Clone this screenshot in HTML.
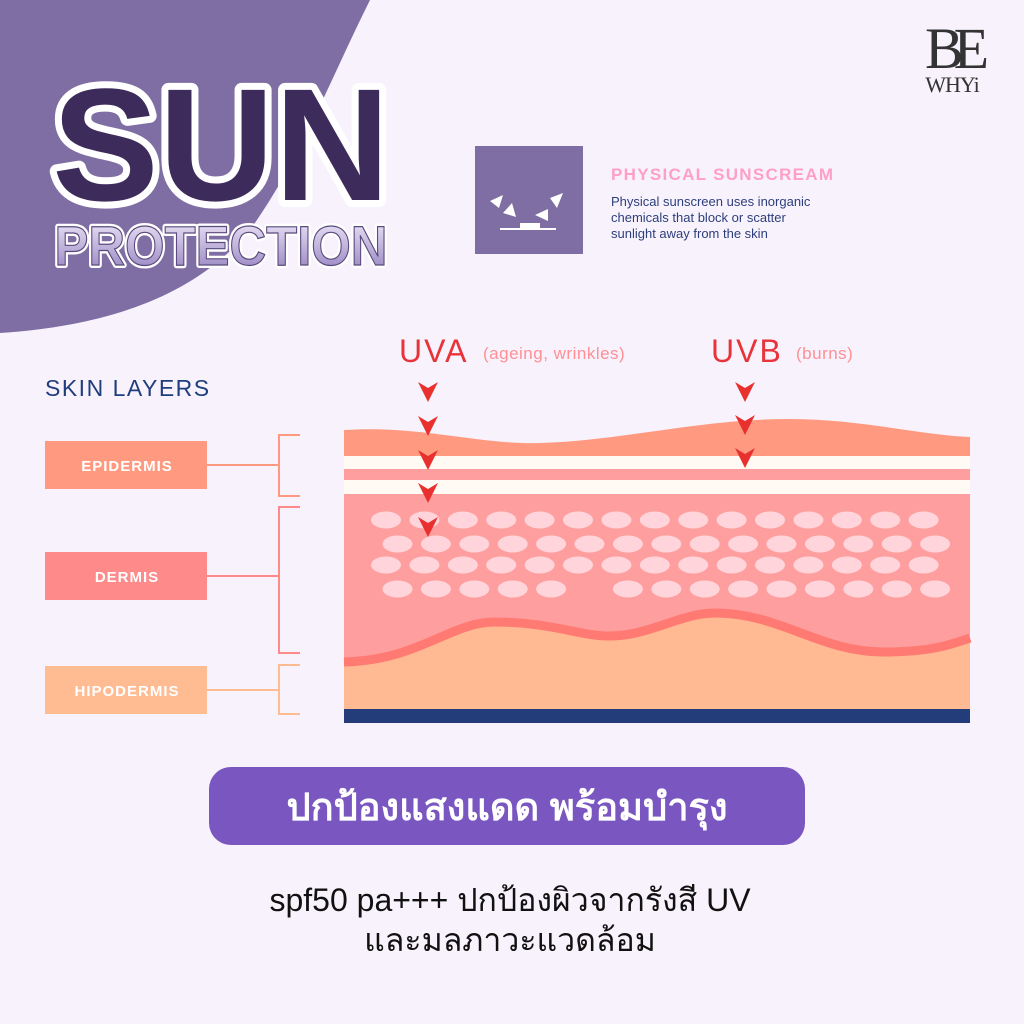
<!DOCTYPE html>
<html><head><meta charset="utf-8"><style>
html,body{margin:0;padding:0;background:#f8f2fc;}
svg{display:block}
</style></head><body>
<svg width="1024" height="1024" viewBox="0 0 1024 1024" xmlns="http://www.w3.org/2000/svg">
<rect width="1024" height="1024" fill="#f8f2fc"/>
<path d="M0 0 H370 C330 80 300 160 250 230 C200 290 120 325 0 333 Z" fill="#7f6ea3"/>
<text x="221" y="200" text-anchor="middle" font-family="Liberation Sans, sans-serif" font-weight="bold" font-size="160" fill="#3d2b5c" stroke="#ffffff" stroke-width="14" paint-order="stroke" stroke-linejoin="round">SUN</text>
<defs><linearGradient id="pg" x1="0" y1="0" x2="0" y2="1"><stop offset="0" stop-color="#f4eefc"/><stop offset="1" stop-color="#8f7cbc"/></linearGradient></defs>
<text x="221" y="265" text-anchor="middle" font-family="Liberation Sans, sans-serif" font-weight="bold" font-size="56" textLength="333" lengthAdjust="spacingAndGlyphs" fill="url(#pg)" stroke="#ffffff" stroke-width="6" paint-order="stroke" stroke-linejoin="round">PROTECTION</text>
<text x="221" y="265" text-anchor="middle" font-family="Liberation Sans, sans-serif" font-weight="bold" font-size="56" textLength="333" lengthAdjust="spacingAndGlyphs" fill="url(#pg)" stroke="#5b4a7d" stroke-width="1.2">PROTECTION</text>
<!-- logo -->
<text x="952" y="68" text-anchor="middle" font-family="Liberation Serif, serif" font-size="58" fill="#333" letter-spacing="-10">BE</text>
<text x="952" y="92" text-anchor="middle" font-family="Liberation Serif, serif" font-size="22" fill="#333" letter-spacing="-1">WHYi</text>
<!-- physical sunscreen -->
<rect x="475" y="146" width="108" height="108" fill="#7f6ea3"/>
<g fill="#fff">
<polygon points="490,201 503,195 499,208"/>
<polygon points="503,213 512,203 516,217"/>
<polygon points="535,215 548,209 548,221"/>
<polygon points="550,198 563,193 557,208"/>
<rect x="520" y="223" width="20" height="5"/>
<rect x="500" y="228" width="56" height="2"/>
</g>
<text x="611" y="180" font-family="Liberation Sans, sans-serif" font-weight="bold" font-size="17" fill="#ff9fc8" letter-spacing="1.3">PHYSICAL SUNSCREAM</text>
<g font-family="Liberation Sans, sans-serif" font-size="13" fill="#2c3f7c">
<text x="611" y="206">Physical sunscreen uses inorganic</text>
<text x="611" y="222">chemicals that block or scatter</text>
<text x="611" y="238">sunlight away from the skin</text>
</g>
<!-- UV labels -->
<text x="399" y="362" font-family="Liberation Sans, sans-serif" font-size="32" fill="#e8333a" letter-spacing="2">UVA</text>
<text x="483" y="359" font-family="Liberation Sans, sans-serif" font-size="17" fill="#ff8f95" letter-spacing="0.5">(ageing, wrinkles)</text>
<text x="711" y="362" font-family="Liberation Sans, sans-serif" font-size="32" fill="#e8333a" letter-spacing="2">UVB</text>
<text x="796" y="359" font-family="Liberation Sans, sans-serif" font-size="17" fill="#ff8f95" letter-spacing="0.5">(burns)</text>
<text x="45" y="396" font-family="Liberation Sans, sans-serif" font-size="23" fill="#1f3e7c" letter-spacing="1.5">SKIN LAYERS</text>
<!-- skin -->
<path d="M344 430 C420 425 480 445 540 443 C620 441 700 419 789 419 C860 419 920 435 970 437 V456 H344 Z" fill="#ff9a80"/>
<rect x="344" y="456" width="626" height="13" fill="#fffaf4"/>
<rect x="344" y="469" width="626" height="11" fill="#ff9e9e"/>
<rect x="344" y="480" width="626" height="14" fill="#fffaf4"/>
<rect x="344" y="494" width="626" height="220" fill="#ff9e9e"/>
<path d="M344 662 C420 660 450 622 495 622 C550 622 580 636 609 636 C650 636 680 613 715 613 C780 613 820 652 883 652 C930 652 950 645 970 638 V710 H344 Z" fill="#ffb993"/>
<path d="M344 662 C420 660 450 622 495 622 C550 622 580 636 609 636 C650 636 680 613 715 613 C780 613 820 652 883 652 C930 652 950 645 970 638" fill="none" stroke="#ff7a72" stroke-width="9"/>
<rect x="344" y="709" width="626" height="14" fill="#233d7a"/>
<g fill="#ffd4da">
<ellipse cx="386" cy="520" rx="15" ry="8.5"/><ellipse cx="424.4" cy="520" rx="15" ry="8.5"/><ellipse cx="462.8" cy="520" rx="15" ry="8.5"/><ellipse cx="501.2" cy="520" rx="15" ry="8.5"/><ellipse cx="539.6" cy="520" rx="15" ry="8.5"/><ellipse cx="578" cy="520" rx="15" ry="8.5"/><ellipse cx="616.4" cy="520" rx="15" ry="8.5"/><ellipse cx="654.8" cy="520" rx="15" ry="8.5"/><ellipse cx="693.2" cy="520" rx="15" ry="8.5"/><ellipse cx="731.6" cy="520" rx="15" ry="8.5"/><ellipse cx="770" cy="520" rx="15" ry="8.5"/><ellipse cx="808.4" cy="520" rx="15" ry="8.5"/><ellipse cx="846.8" cy="520" rx="15" ry="8.5"/><ellipse cx="885.2" cy="520" rx="15" ry="8.5"/><ellipse cx="923.6" cy="520" rx="15" ry="8.5"/>
<ellipse cx="397.5" cy="544" rx="15" ry="8.5"/><ellipse cx="435.9" cy="544" rx="15" ry="8.5"/><ellipse cx="474.3" cy="544" rx="15" ry="8.5"/><ellipse cx="512.7" cy="544" rx="15" ry="8.5"/><ellipse cx="551.1" cy="544" rx="15" ry="8.5"/><ellipse cx="589.5" cy="544" rx="15" ry="8.5"/><ellipse cx="627.9" cy="544" rx="15" ry="8.5"/><ellipse cx="666.3" cy="544" rx="15" ry="8.5"/><ellipse cx="704.7" cy="544" rx="15" ry="8.5"/><ellipse cx="743.1" cy="544" rx="15" ry="8.5"/><ellipse cx="781.5" cy="544" rx="15" ry="8.5"/><ellipse cx="819.9" cy="544" rx="15" ry="8.5"/><ellipse cx="858.3" cy="544" rx="15" ry="8.5"/><ellipse cx="896.7" cy="544" rx="15" ry="8.5"/><ellipse cx="935.1" cy="544" rx="15" ry="8.5"/>
<ellipse cx="386" cy="565" rx="15" ry="8.5"/><ellipse cx="424.4" cy="565" rx="15" ry="8.5"/><ellipse cx="462.8" cy="565" rx="15" ry="8.5"/><ellipse cx="501.2" cy="565" rx="15" ry="8.5"/><ellipse cx="539.6" cy="565" rx="15" ry="8.5"/><ellipse cx="578" cy="565" rx="15" ry="8.5"/><ellipse cx="616.4" cy="565" rx="15" ry="8.5"/><ellipse cx="654.8" cy="565" rx="15" ry="8.5"/><ellipse cx="693.2" cy="565" rx="15" ry="8.5"/><ellipse cx="731.6" cy="565" rx="15" ry="8.5"/><ellipse cx="770" cy="565" rx="15" ry="8.5"/><ellipse cx="808.4" cy="565" rx="15" ry="8.5"/><ellipse cx="846.8" cy="565" rx="15" ry="8.5"/><ellipse cx="885.2" cy="565" rx="15" ry="8.5"/><ellipse cx="923.6" cy="565" rx="15" ry="8.5"/>
<ellipse cx="397.5" cy="589" rx="15" ry="8.5"/><ellipse cx="435.9" cy="589" rx="15" ry="8.5"/><ellipse cx="474.3" cy="589" rx="15" ry="8.5"/><ellipse cx="512.7" cy="589" rx="15" ry="8.5"/><ellipse cx="551.1" cy="589" rx="15" ry="8.5"/><ellipse cx="627.9" cy="589" rx="15" ry="8.5"/><ellipse cx="666.3" cy="589" rx="15" ry="8.5"/><ellipse cx="704.7" cy="589" rx="15" ry="8.5"/><ellipse cx="743.1" cy="589" rx="15" ry="8.5"/><ellipse cx="781.5" cy="589" rx="15" ry="8.5"/><ellipse cx="819.9" cy="589" rx="15" ry="8.5"/><ellipse cx="858.3" cy="589" rx="15" ry="8.5"/><ellipse cx="896.7" cy="589" rx="15" ry="8.5"/><ellipse cx="935.1" cy="589" rx="15" ry="8.5"/>
</g>
<!-- arrows -->
<defs><path id="ar" d="M-10 -10 L0 -4 L10 -10 L0 10 Z" fill="#e8302f"/></defs>
<use href="#ar" x="428" y="392"/><use href="#ar" x="428" y="426"/><use href="#ar" x="428" y="460"/><use href="#ar" x="428" y="493"/><use href="#ar" x="428" y="527"/>
<use href="#ar" x="745" y="392"/><use href="#ar" x="745" y="425"/><use href="#ar" x="745" y="458"/>
<!-- labels -->
<g font-family="Liberation Sans, sans-serif" font-weight="bold" font-size="15" fill="#fff" text-anchor="middle" letter-spacing="1">
<rect x="45" y="441" width="162" height="48" fill="#ff9a80"/><text x="127" y="471">EPIDERMIS</text>
<rect x="45" y="552" width="162" height="48" fill="#ff8a8a"/><text x="127" y="582">DERMIS</text>
<rect x="45" y="666" width="162" height="48" fill="#ffbb92"/><text x="127" y="696">HIPODERMIS</text>
</g>
<g fill="none" stroke-width="2">
<path d="M207 465 H279 M300 435 H279 V496 H300" stroke="#ff9a80"/>
<path d="M207 576 H279 M300 507 H279 V653 H300" stroke="#ff8a8a"/>
<path d="M207 690 H279 M300 665 H279 V714 H300" stroke="#ffbb92"/>
</g>
<rect x="209" y="767" width="596" height="78" rx="22" fill="#7a56c0"/>
<text x="507" y="820" text-anchor="middle" font-family="Liberation Sans, 'Noto Sans CJK SC', sans-serif" font-weight="bold" font-size="38" fill="#fff">ปกป้องแสงแดด พร้อมบำรุง</text>
<text x="510" y="911" text-anchor="middle" font-family="Liberation Sans, 'Noto Sans CJK SC', sans-serif" font-size="32" fill="#111">spf50 pa+++ ปกป้องผิวจากรังสี UV</text>
<text x="510" y="951" text-anchor="middle" font-family="Liberation Sans, 'Noto Sans CJK SC', sans-serif" font-size="32" fill="#111">และมลภาวะแวดล้อม</text>
</svg>
</body></html>
